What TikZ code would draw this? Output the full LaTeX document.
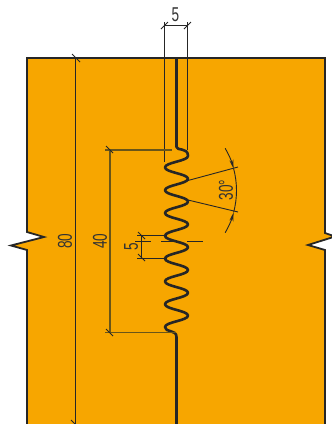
\documentclass[tikz,border=0pt]{standalone}
\usepackage{fontspec}
\setmainfont{Liberation Sans}
\usetikzlibrary{arrows.meta,positioning}
\definecolor{plate}{RGB}{247,166,0}
\definecolor{dimbrown}{RGB}{105,85,25}
\begin{document}
\begin{tikzpicture}[x=1pt, y=-1pt, >={Stealth[length=9pt,width=4pt]},
    outline/.style={draw=black!85, line width=1.8pt, fill=plate},
    seam/.style={draw=black!85, line width=2.6pt},
    dimline/.style={draw=black!85, line width=0.9pt},
    dimbrown line/.style={draw=dimbrown, line width=1.2pt},
    dimtext/.style={inner sep=0pt, font=\fontsize{20}{20}\selectfont, xscale=0.68, text=black!80},
    vdimtext/.style={inner sep=0pt, font=\fontsize{20}{20}\selectfont, rotate=90, xscale=0.68, text=black!80}
    ]
\useasboundingbox (0,0) rectangle (332,424);
% plate with the two break marks
\path[outline] (27,424) -- (27,250) -- (11,245.5) -- (44,237) -- (27,232) -- (27,58)
    -- (325,58) -- (325,233) -- (335,236.5) -- (308,245) -- (325,250) -- (325,424);
% seam
\coordinate (seamtop) at (176.5,58);
\coordinate (seamin) at (176.5,147);
\coordinate (seamout) at (176.5,337);
\coordinate (seamend) at (176.5,424);
\draw[seam, line join=round] (seamtop) -- (seamin) .. controls (176.5,151) and (188,147) .. (188,156)
    foreach \i in {0,...,6} {
      .. controls (188,156+22.8*\i+5) and (165,156+22.8*\i+6.4) .. (165,156+22.8*\i+11.4)
      .. controls (165,156+22.8*\i+16.4) and (188,156+22.8*\i+17.8) .. (188,156+22.8*\i+22.8)
    }
    .. controls (188,320.6) and (165,322) .. (165,327)
    .. controls (165,333) and (176.5,329) .. (seamout) -- (seamend);
% dim 5 top
\coordinate (ta) at (164.5,25.5);
\coordinate (tb) at (187.5,25.5);
\coordinate (tac) at (164.5,162);
\coordinate (tbc) at (187.5,150);
\draw[dimline] (ta) -- (tb);
\draw[dimline] (164.5,22) -- (tac);
\draw[dimline] (187.5,22) -- (tbc);
\draw[dimline] (161,29) -- (168,22);
\draw[dimline] (184,29) -- (191,22);
\node[dimtext] (topfive) at (175.5,15) {5};
% dim 80
\coordinate (la) at (75.5,58);
\coordinate (lb) at (75.5,424);
\draw[dimline] (la) -- (lb);
\draw[dimline] (72,54) -- (80,62);
\draw[dimline] (71,420) -- (79,428);
\node[vdimtext] (eighty) at (65,241) {80};
% dim 40
\coordinate (ma) at (110,150);
\coordinate (mb) at (110,332.7);
\draw[dimbrown line] (ma) -- (mb);
\draw[dimbrown line] (105,150) -- (172,150);
\draw[dimbrown line] (105,332.7) -- (176,332.7);
\draw[dimline] (106,146) -- (113,153);
\draw[dimline] (106,329) -- (113,336);
\node[vdimtext] (forty) at (100,241) {40};
% dim 5 pitch
\coordinate (pa) at (141.5,235);
\coordinate (pb) at (141.5,258);
\draw[dimline] (pa) -- (pb);
\draw[dimline] (137,235) -- (167,235);
\draw[dimline] (137,258) -- (167,258);
\draw[dimline] (138,232) -- (145,239);
\draw[dimline] (138,254) -- (145,261);
\node[vdimtext] (pitchfive) at (131,247) {5};
% centre line
\draw[dimline] (135,241.5) -- (151,241.5);
\draw[dimline] (161,241.5) -- (180,241.5);
\draw[dimline] (187,241.5) -- (203,241.5);
% angle 30
\coordinate (apex) at (152,190.5);
\coordinate (ua) at (188,180.5);
\coordinate (ub) at (238,167);
\coordinate (va) at (188,200);
\coordinate (vb) at (238,212);
\draw[dimline] (ua) -- (ub);
\draw[dimline] (va) -- (vb);
\draw[dimline] (apex) ++(-15:84.5) arc (-15:15:84.5);
\draw[dimline, ->] (apex) ++(-30:84.5) arc (-30:-15:84.5);
\draw[dimline, ->] (apex) ++(30:84.5) arc (30:15:84.5);
\node[vdimtext] (thirty) at (226,190) {30°};
\end{tikzpicture}
\end{document}
